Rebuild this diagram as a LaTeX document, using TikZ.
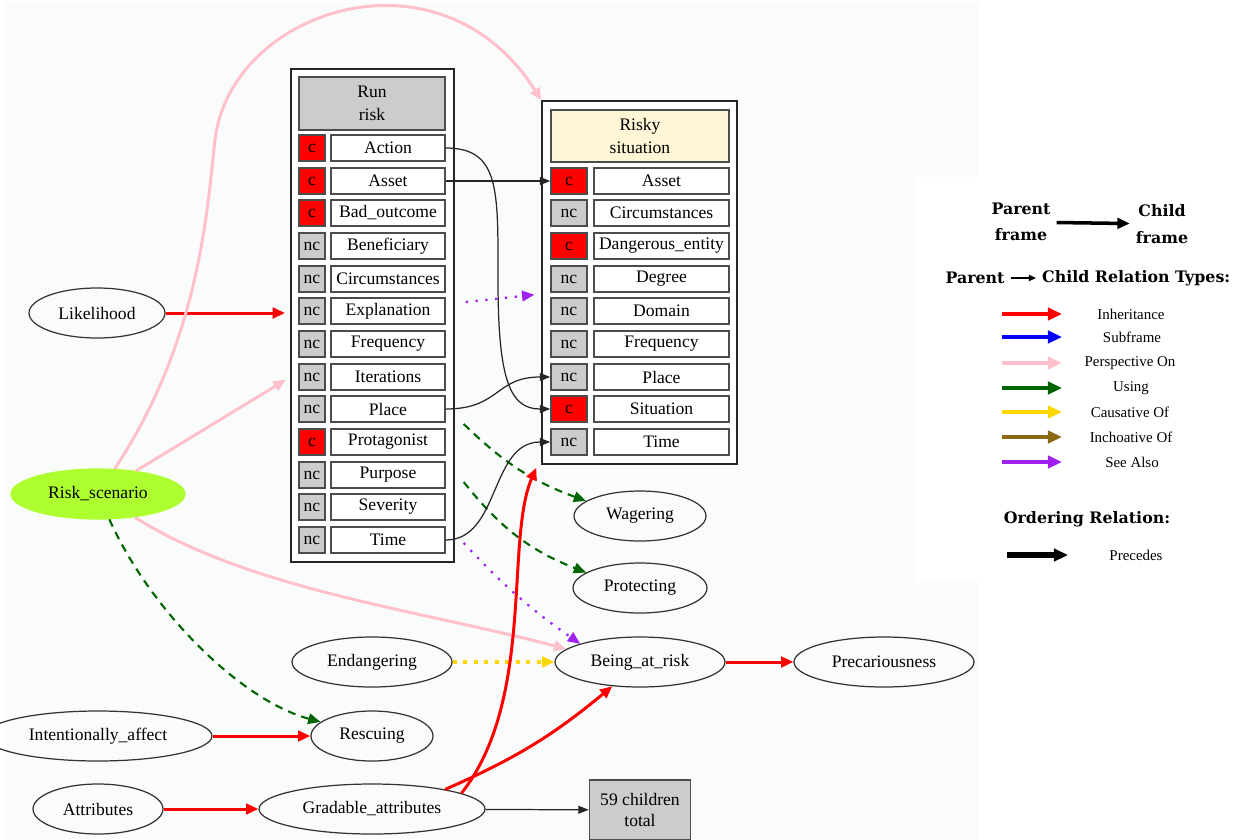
\documentclass[tikz,border=0pt]{standalone}
\usepackage{fontspec}
\setmainfont{Liberation Serif}
\newfontfamily\legendfont{DejaVu Serif}
\usetikzlibrary{arrows.meta,shapes.geometric,calc}
\definecolor{pinkrel}{RGB}{255,192,203}
\definecolor{greenrel}{RGB}{0,100,0}
\definecolor{purplerel}{RGB}{160,32,240}
\definecolor{goldrel}{RGB}{255,215,0}
\definecolor{brownrel}{RGB}{139,105,20}
\definecolor{cellgray}{RGB}{204,204,204}
\definecolor{headcream}{RGB}{255,245,215}
\definecolor{scenegreen}{RGB}{173,255,47}
\definecolor{bgtint}{RGB}{249,252,250}

\begin{document}
\begin{tikzpicture}[x=0.02cm,y=-0.02cm,
  every node/.style={font=\fontsize{10}{12}\selectfont},
  slotbox/.style={draw=black!70, line width=0.8pt, inner sep=0pt, minimum height=0.52cm},
  core/.style={slotbox, fill=red, minimum width=#1},
  noncore/.style={slotbox, fill=cellgray, minimum width=#1},
  fe/.style={slotbox, fill=white, minimum width=#1},
  hdr/.style={draw=black!70, line width=1pt, align=center, inner sep=0pt, font=\fontsize{10}{13}\selectfont},
  cluster/.style={draw=black!85, line width=0.8pt, fill=white, inner sep=0pt},
  fnode/.style={ellipse, draw=black!80, line width=0.7pt, inner sep=0pt, minimum height=1cm},
  inherit/.style={red, line width=1.7pt, -{Triangle[length=7pt,width=6pt]}},
  persp/.style={pinkrel, line width=1.7pt, -{Triangle[length=7pt,width=6pt]}},
  usingrel/.style={greenrel, line width=1.2pt, dash pattern=on 4.5pt off 3.5pt, -{Triangle[length=7pt,width=6pt]}},
  seealso/.style={purplerel, line width=1.3pt, dash pattern=on 1.3pt off 4.3pt, -{Triangle[length=7pt,width=6pt]}},
  causes/.style={goldrel, line width=2.2pt, dash pattern=on 2.3pt off 3.7pt, -{Triangle[length=7pt,width=6pt]}},
  precedes/.style={black!85, line width=0.7pt, -{Triangle[length=6pt,width=4.5pt]}},
  legtitle/.style={font=\legendfont\bfseries\fontsize{9}{15}\selectfont, align=center},
  leglabel/.style={font=\fontsize{8.5}{10}\selectfont},
  legarrow/.style={line width=2.8pt, -{Triangle[length=8pt,width=7pt]}}]
\useasboundingbox (0,0) rectangle (1241,839);
\fill[bgtint] (5,3) rectangle (978,839);
\fill[white] (915,177) rectangle (1241,582);

% Run risk
\node[cluster, minimum width=3.26cm, minimum height=9.86cm] (rrBox) at (372.5,315.5) {};
\node[hdr, fill=cellgray, minimum width=2.92cm, minimum height=1.06cm] (rrHead) at (372,103.5) {Run\\risk};
\node[core=0.52cm] (rrActionK) at (312,148) {c}; \node[fe=2.28cm] (rrAction) at (388,148) {Action};
\node[core=0.52cm] (rrAssetK) at (312,181) {c}; \node[fe=2.28cm] (rrAsset) at (388,181) {Asset};
\node[core=0.52cm] (rrBadK) at (312,213) {c}; \node[fe=2.28cm] (rrBad) at (388,213) {Bad\_outcome};
\node[noncore=0.52cm] (rrBenefK) at (312,246) {nc}; \node[fe=2.28cm] (rrBenef) at (388,246) {Beneficiary};
\node[noncore=0.52cm] (rrCircK) at (312,279) {nc}; \node[fe=2.28cm] (rrCirc) at (388,279) {Circumstances};
\node[noncore=0.52cm] (rrExplK) at (312,311) {nc}; \node[fe=2.28cm] (rrExpl) at (388,311) {Explanation};
\node[noncore=0.52cm] (rrFreqK) at (312,344) {nc}; \node[fe=2.28cm] (rrFreq) at (388,344) {Frequency};
\node[noncore=0.52cm] (rrIterK) at (312,377) {nc}; \node[fe=2.28cm] (rrIter) at (388,377) {Iterations};
\node[noncore=0.52cm] (rrPlaceK) at (312,409) {nc}; \node[fe=2.28cm] (rrPlace) at (388,409) {Place};
\node[core=0.52cm] (rrProtK) at (312,442) {c}; \node[fe=2.28cm] (rrProt) at (388,442) {Protagonist};
\node[noncore=0.52cm] (rrPurpK) at (312,475) {nc}; \node[fe=2.28cm] (rrPurp) at (388,475) {Purpose};
\node[noncore=0.52cm] (rrSevK) at (312,507) {nc}; \node[fe=2.28cm] (rrSev) at (388,507) {Severity};
\node[noncore=0.52cm] (rrTimeK) at (312,540) {nc}; \node[fe=2.28cm] (rrTime) at (388,540) {Time};

% Risky situation
\node[cluster, minimum width=3.9cm, minimum height=7.26cm] (rsBox) at (639.5,282.5) {};
\node[hdr, fill=headcream, minimum width=3.56cm, minimum height=1.04cm] (rsHead) at (640,136) {Risky\\situation};
\node[core=0.72cm] (rsAssetK) at (569,181) {c}; \node[fe=2.7cm] (rsAsset) at (661.5,181) {Asset};
\node[noncore=0.72cm] (rsCircK) at (569,213) {nc}; \node[fe=2.7cm] (rsCirc) at (661.5,213) {Circumstances};
\node[core=0.72cm] (rsDangK) at (569,246) {c}; \node[fe=2.7cm] (rsDang) at (661.5,246) {Dangerous\_entity};
\node[noncore=0.72cm] (rsDegK) at (569,279) {nc}; \node[fe=2.7cm] (rsDeg) at (661.5,279) {Degree};
\node[noncore=0.72cm] (rsDomK) at (569,311) {nc}; \node[fe=2.7cm] (rsDom) at (661.5,311) {Domain};
\node[noncore=0.72cm] (rsFreqK) at (569,344) {nc}; \node[fe=2.7cm] (rsFreq) at (661.5,344) {Frequency};
\node[noncore=0.72cm] (rsPlaceK) at (569,377) {nc}; \node[fe=2.7cm] (rsPlace) at (661.5,377) {Place};
\node[core=0.72cm] (rsSitK) at (569,409) {c}; \node[fe=2.7cm] (rsSit) at (661.5,409) {Situation};
\node[noncore=0.72cm] (rsTimeK) at (569,442) {nc}; \node[fe=2.7cm] (rsTime) at (661.5,442) {Time};

% frames
\node[fnode, minimum width=2.72cm] (lik) at (97,313) {Likelihood};
\node[fnode, fill=scenegreen, draw=scenegreen, minimum width=3.48cm] (scen) at (98,494) {Risk\_scenario};
\node[fnode, minimum width=2.64cm] (wag) at (640,516) {Wagering};
\node[fnode, minimum width=2.68cm] (prot) at (640,588) {Protecting};
\node[fnode, minimum width=3.2cm] (endang) at (372,662) {Endangering};
\node[fnode, minimum width=3.4cm] (bar) at (640,662) {Being\_at\_risk};
\node[fnode, minimum width=3.6cm] (prec) at (884,662) {Precariousness};
\node[fnode, minimum width=4.56cm] (intaff) at (98,736) {Intentionally\_affect};
\node[fnode, minimum width=2.44cm] (resc) at (372,736) {Rescuing};
\node[fnode, minimum width=2.6cm] (attr) at (98,809) {Attributes};
\node[fnode, minimum width=4.52cm] (grad) at (372,809) {Gradable\_attributes};
\node[draw=black!70, line width=0.8pt, fill=cellgray, minimum width=2.02cm, minimum height=1.2cm, align=center, inner sep=0pt] (kids) at (640,810) {59 children\\total};

% relations
\draw[inherit, shorten >=3pt] (lik) -- (rrBox.west |- lik);
\draw[persp, shorten >=3pt] (scen) -- (rrBox.west |- rrIter);
\draw[persp] (scen) .. controls (200,340) and (207,210) .. (215,140) .. controls (230,10) and (440,-60) .. (rsBox.north west);
\draw[persp] (scen) .. controls (250,590) and (420,610) .. (bar.170);
\draw[usingrel] (scen) .. controls (150,610) and (240,700) .. (resc);
\draw[seealso, shorten >=4pt] ($(rrBox.east |- rrExpl)+(11,-9)$) -- ($(rsBox.west |- rsDeg)+(0,15)$);
\draw[usingrel] ($(rrBox.east |- rrPlace)+(9,15)$) to[bend right=12] (wag);
\draw[usingrel] ($(rrBox.east |- rrPurp)+(9,7)$) to[bend right=15] (prot);
\draw[seealso] ($(rrBox.east |- rrTime)+(9,3)$) to[bend right=6] (bar.163);
\draw[causes] (endang) -- (bar);
\draw[inherit] (bar) -- (prec);
\draw[inherit] (intaff) -- (resc);
\draw[inherit] (attr) -- (grad);
\draw[inherit] (grad.15) to[bend right=8] (bar);
\draw[inherit] (grad.10) .. controls (535,700) and (505,540) .. ($(rsBox.south west)+(-5,3)$);

% ordering
\draw[precedes] (rrAction) .. controls (500,148) and (498,190) .. (498,280) .. controls (498,380) and (510,409) .. (rsSitK);
\draw[precedes] (rrAsset) -- (rsAssetK);
\draw[precedes] (rrPlace) .. controls (500,409) and (495,377) .. (rsPlaceK);
\draw[precedes] (rrTime) .. controls (500,540) and (490,442) .. (rsTimeK);
\draw[precedes] (grad) -- (kids);

% legend
\node[legtitle] (lgParent) at (1021,222) {Parent\\frame};
\node[legtitle] (lgChild) at (1162,224) {Child\\frame};
\draw[black, line width=2pt, -{Triangle[length=7pt,width=6pt]}] (lgParent) -- (lgChild);
\node[legtitle] (lgRelP) at (975,278) {Parent};
\node[legtitle, anchor=west] (lgRelC) at (1036,278) {Child Relation Types:};
\draw[black, line width=0.8pt, -{Triangle[length=4pt,width=3.5pt]}] (lgRelP) -- (lgRelC);
\coordinate (lgInhA) at (1002,314); \coordinate (lgInhB) at (1062,314);
\draw[legarrow, red] (lgInhA) -- (lgInhB); \node[leglabel] (lgInh) at (1131,314) {Inheritance};
\coordinate (lgSubA) at (1002,337); \coordinate (lgSubB) at (1062,337);
\draw[legarrow, blue] (lgSubA) -- (lgSubB); \node[leglabel] (lgSub) at (1132,337) {Subframe};
\coordinate (lgPerA) at (1002,363); \coordinate (lgPerB) at (1062,363);
\draw[legarrow, pinkrel] (lgPerA) -- (lgPerB); \node[leglabel] (lgPer) at (1130,363) {Perspective On};
\coordinate (lgUseA) at (1002,388); \coordinate (lgUseB) at (1062,388);
\draw[legarrow, greenrel] (lgUseA) -- (lgUseB); \node[leglabel] (lgUse) at (1131,388) {Using};
\coordinate (lgCauA) at (1002,412); \coordinate (lgCauB) at (1062,412);
\draw[legarrow, goldrel] (lgCauA) -- (lgCauB); \node[leglabel] (lgCau) at (1130,412) {Causative Of};
\coordinate (lgIncA) at (1002,437); \coordinate (lgIncB) at (1062,437);
\draw[legarrow, brownrel] (lgIncA) -- (lgIncB); \node[leglabel] (lgInc) at (1131,437) {Inchoative Of};
\coordinate (lgSeeA) at (1002,462); \coordinate (lgSeeB) at (1062,462);
\draw[legarrow, purplerel] (lgSeeA) -- (lgSeeB); \node[leglabel] (lgSee) at (1132,462) {See Also};
\node[legtitle] (lgOrd) at (1087,519) {Ordering Relation:};
\coordinate (lgPreA) at (1007,555); \coordinate (lgPreB) at (1068,555);
\draw[legarrow, black, line width=3.2pt] (lgPreA) -- (lgPreB); \node[leglabel] (lgPre) at (1136,555) {Precedes};
\end{tikzpicture}
\end{document}
